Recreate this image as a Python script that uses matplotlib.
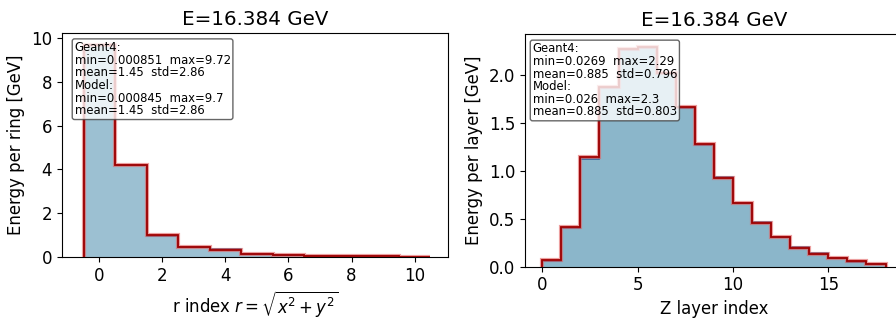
import numpy as np
import matplotlib.pyplot as plt

title = "E=16.384 GeV"

# energy per ring (r index 0..10)
ring_idx = np.arange(11)
ring_g4 = [9.72, 4.21, 0.97, 0.44, 0.34, 0.12, 0.09, 0.045, 0.03, 0.015, 0.000851]
ring_model = [9.70, 4.19, 0.98, 0.45, 0.33, 0.13, 0.09, 0.04, 0.03, 0.016, 0.000845]

# energy per Z layer (0..17)
layer_idx = np.arange(18)
layer_g4 = [0.065, 0.41, 1.13, 1.87, 2.27, 2.29, 2.02, 1.66, 1.27, 0.94,
            0.67, 0.47, 0.31, 0.21, 0.14, 0.09, 0.05, 0.0269]
layer_model = [0.07, 0.42, 1.15, 1.88, 2.28, 2.30, 2.03, 1.67, 1.28, 0.93,
               0.67, 0.46, 0.31, 0.20, 0.13, 0.09, 0.055, 0.026]

stats_ring = ("Geant4:\nmin=0.000851  max=9.72\nmean=1.45  std=2.86\n"
              "Model:\nmin=0.000845  max=9.7\nmean=1.45  std=2.86")
stats_layer = ("Geant4:\nmin=0.0269  max=2.29\nmean=0.885  std=0.796\n"
               "Model:\nmin=0.026  max=2.3\nmean=0.885  std=0.803")

fig = plt.figure(figsize=(8.96, 3.21), dpi=100)
ax1 = fig.add_axes([0.069, 0.200, 0.431, 0.696])
ax2 = fig.add_axes([0.586, 0.169, 0.4215, 0.724])


def draw(ax, edges, g4, model, fill, stats, box_x):
    ax.stairs(g4, edges, fill=True, color=fill, zorder=1)
    ax.stairs(g4, edges, color="#2a6aa0", lw=1.2, zorder=2)
    ax.stairs(model, edges, baseline=0, color="#e06060", lw=3.0, alpha=0.6, zorder=3)
    ax.stairs(model, edges, baseline=0, color="#a00000", lw=1.3, zorder=4)
    ax.text(box_x, 0.965, stats, transform=ax.transAxes, va="top", ha="left",
            fontsize=8.4, linespacing=0.96, zorder=5,
            bbox=dict(boxstyle="round,pad=0.2", fc="white", ec="#404040",
                      alpha=0.8, lw=1))
    ax.set_title(title, fontsize=14.3)
    ax.tick_params(labelsize=12)


draw(ax1, np.append(ring_idx, 11) - 0.5, ring_g4, ring_model, "#9cc0d2",
     stats_ring, 0.033)
ax1.set_xlim(-1.19, 11.06)
ax1.set_ylim(0, 10.23)
ax1.set_xticks([0, 2, 4, 6, 8, 10])
ax1.set_ylabel("Energy per ring [GeV]", fontsize=11.9)
ax1.set_xlabel(r"r index $r=\sqrt{x^2+y^2}$", fontsize=11.9)

draw(ax2, np.append(layer_idx, 18), layer_g4, layer_model, "#8bb6ca",
     stats_layer, 0.02)
ax2.set_xlim(-0.9, 18.9)
ax2.set_ylim(0, 2.43)
ax2.set_xticks([0, 5, 10, 15])
ax2.set_ylabel("Energy per layer [GeV]", fontsize=11.9)
ax2.set_xlabel("Z layer index", fontsize=11.9)

fig.savefig("out.png", dpi=100)
